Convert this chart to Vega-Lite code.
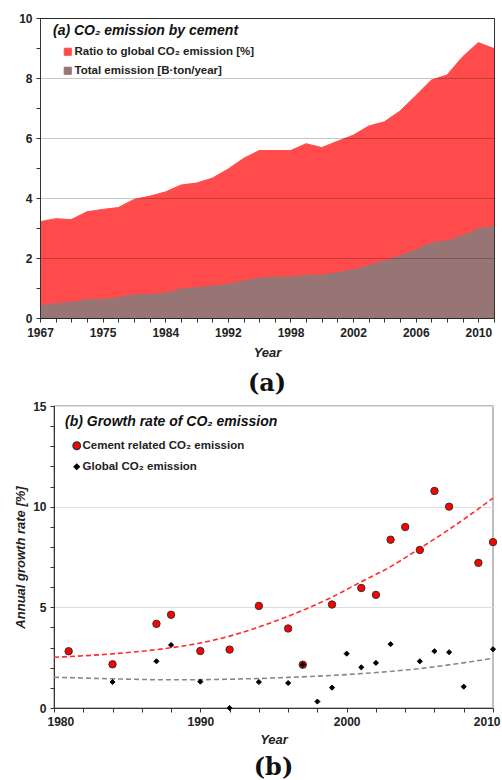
{
  "$schema": "https://vega.github.io/schema/vega-lite/v6.json",
  "background": "white",
  "padding": {"left": 13, "top": 11, "right": 0, "bottom": 0},
  "spacing": 2,
  "config": {
    "font": "Liberation Sans",
    "axis": {
      "labelFont": "Liberation Sans", "labelFontSize": 12, "labelFontWeight": "bold", "labelColor": "#222",
      "titleFont": "Liberation Sans", "titleFontSize": 13, "titleFontWeight": "bold", "titleFontStyle": "italic", "titleColor": "#222",
      "domainColor": "#333", "tickColor": "#333", "tickSize": 4
    },
    "legend": {
      "titleFont": "Liberation Sans", "titleFontSize": 14, "titleFontWeight": "bold", "titleFontStyle": "italic", "titleColor": "#111",
      "labelFont": "Liberation Sans", "labelFontSize": 11.5, "labelFontWeight": "bold", "labelColor": "#222",
      "padding": 0, "titleLimit": 400, "labelLimit": 400
    },
    "title": {"font": "DejaVu Serif", "fontSize": 24, "fontWeight": "bold", "color": "#111", "anchor": "middle"}
  },
  "datasets": {
    "cement": [
      {"year": 1967, "ratio": 3.21, "total": 0.41},
      {"year": 1969, "ratio": 3.31, "total": 0.48},
      {"year": 1971, "ratio": 3.28, "total": 0.52},
      {"year": 1973, "ratio": 3.54, "total": 0.61},
      {"year": 1975, "ratio": 3.62, "total": 0.62},
      {"year": 1977, "ratio": 3.68, "total": 0.67},
      {"year": 1980, "ratio": 3.95, "total": 0.77},
      {"year": 1982, "ratio": 4.06, "total": 0.78},
      {"year": 1984, "ratio": 4.2, "total": 0.83},
      {"year": 1986, "ratio": 4.43, "total": 0.96},
      {"year": 1988, "ratio": 4.5, "total": 1.01},
      {"year": 1990, "ratio": 4.66, "total": 1.06},
      {"year": 1992, "ratio": 4.96, "total": 1.12},
      {"year": 1993, "ratio": 5.32, "total": 1.23},
      {"year": 1995, "ratio": 5.58, "total": 1.33},
      {"year": 1996, "ratio": 5.58, "total": 1.36},
      {"year": 1998, "ratio": 5.58, "total": 1.36},
      {"year": 1999, "ratio": 5.81, "total": 1.43},
      {"year": 2000, "ratio": 5.68, "total": 1.43},
      {"year": 2001, "ratio": 5.89, "total": 1.51},
      {"year": 2002, "ratio": 6.09, "total": 1.6},
      {"year": 2003, "ratio": 6.4, "total": 1.74},
      {"year": 2004, "ratio": 6.54, "total": 1.9},
      {"year": 2005, "ratio": 6.9, "total": 2.06},
      {"year": 2006, "ratio": 7.41, "total": 2.27},
      {"year": 2007, "ratio": 7.93, "total": 2.5},
      {"year": 2008, "ratio": 8.1, "total": 2.57},
      {"year": 2009, "ratio": 8.71, "total": 2.74},
      {"year": 2010, "ratio": 9.18, "total": 2.97},
      {"year": 2011, "ratio": 8.98, "total": 3.06}
    ],
    "growth": [
      {"year": 1981, "series": "cement", "rate": 2.82},
      {"year": 1984, "series": "cement", "rate": 2.17},
      {"year": 1987, "series": "cement", "rate": 4.18},
      {"year": 1988, "series": "cement", "rate": 4.63},
      {"year": 1990, "series": "cement", "rate": 2.83},
      {"year": 1992, "series": "cement", "rate": 2.9},
      {"year": 1994, "series": "cement", "rate": 5.07},
      {"year": 1996, "series": "cement", "rate": 3.95},
      {"year": 1997, "series": "cement", "rate": 2.15},
      {"year": 1999, "series": "cement", "rate": 5.14},
      {"year": 2001, "series": "cement", "rate": 5.96},
      {"year": 2002, "series": "cement", "rate": 5.62},
      {"year": 2003, "series": "cement", "rate": 8.36},
      {"year": 2004, "series": "cement", "rate": 8.99},
      {"year": 2005, "series": "cement", "rate": 7.85},
      {"year": 2006, "series": "cement", "rate": 10.78},
      {"year": 2007, "series": "cement", "rate": 10.0},
      {"year": 2009, "series": "cement", "rate": 7.21},
      {"year": 2010, "series": "cement", "rate": 8.24},
      {"year": 1984, "series": "global", "rate": 1.29},
      {"year": 1987, "series": "global", "rate": 2.32},
      {"year": 1988, "series": "global", "rate": 3.13},
      {"year": 1990, "series": "global", "rate": 1.31},
      {"year": 1992, "series": "global", "rate": 0.0},
      {"year": 1994, "series": "global", "rate": 1.29},
      {"year": 1996, "series": "global", "rate": 1.24},
      {"year": 1997, "series": "global", "rate": 2.15},
      {"year": 1998, "series": "global", "rate": 0.32},
      {"year": 1999, "series": "global", "rate": 1.01},
      {"year": 2000, "series": "global", "rate": 2.7},
      {"year": 2001, "series": "global", "rate": 2.02},
      {"year": 2002, "series": "global", "rate": 2.24},
      {"year": 2003, "series": "global", "rate": 3.17},
      {"year": 2005, "series": "global", "rate": 2.32},
      {"year": 2006, "series": "global", "rate": 2.82},
      {"year": 2007, "series": "global", "rate": 2.77},
      {"year": 2008, "series": "global", "rate": 1.06},
      {"year": 2010, "series": "global", "rate": 2.92}
    ],
    "trend": [
      {"year": 1980, "fit": "cement", "rate": 2.52},
      {"year": 1984, "fit": "cement", "rate": 2.69},
      {"year": 1987, "fit": "cement", "rate": 2.9},
      {"year": 1990, "fit": "cement", "rate": 3.23},
      {"year": 1992, "fit": "cement", "rate": 3.57},
      {"year": 1995, "fit": "cement", "rate": 4.28},
      {"year": 1999, "fit": "cement", "rate": 5.51},
      {"year": 2001, "fit": "cement", "rate": 6.27},
      {"year": 2003, "fit": "cement", "rate": 7.02},
      {"year": 2005, "fit": "cement", "rate": 7.93},
      {"year": 2007, "fit": "cement", "rate": 8.87},
      {"year": 2010, "fit": "cement", "rate": 10.42},
      {"year": 1980, "fit": "global", "rate": 1.53},
      {"year": 1984, "fit": "global", "rate": 1.45},
      {"year": 1988, "fit": "global", "rate": 1.4},
      {"year": 1992, "fit": "global", "rate": 1.43},
      {"year": 1996, "fit": "global", "rate": 1.52},
      {"year": 2000, "fit": "global", "rate": 1.66},
      {"year": 2005, "fit": "global", "rate": 1.96},
      {"year": 2010, "fit": "global", "rate": 2.47}
    ]
  },
  "vconcat": [
    {
      "width": 454,
      "height": 300,
      "data": {"name": "cement"},
      "transform": [{"fold": ["ratio", "total"], "as": ["measure", "value"]}],
      "title": {"text": "(a)", "orient": "bottom", "offset": 13},
      "view": {"stroke": "#333", "strokeWidth": 1},
      "encoding": {
        "x": {
          "field": "year", "type": "ordinal",
          "scale": {"type": "point", "padding": 0},
          "axis": {
            "title": "Year", "labelAngle": 0, "grid": false,
            "labelExpr": "indexof([1967,1975,1984,1992,1998,2002,2006,2010], datum.value) >= 0 ? datum.label : ''",
            "labelPadding": 5, "titlePadding": 8
          }
        },
        "y": {
          "field": "value", "type": "quantitative", "stack": null,
          "scale": {"domain": [0, 10], "nice": false},
          "axis": {
            "title": null, "format": "d",
            "values": [0,0.5,1,1.5,2,2.5,3,3.5,4,4.5,5,5.5,6,6.5,7,7.5,8,8.5,9,9.5,10],
            "labelExpr": "datum.value % 2 == 0 ? datum.label : ''",
            "gridColor": "#000",
            "gridOpacity": {"condition": {"test": "datum.value % 2 == 0", "value": 0.22}, "value": 0},
            "zindex": 1, "labelPadding": 4
          }
        },
        "color": {
          "field": "measure", "type": "nominal",
          "scale": {"domain": ["ratio", "total"], "range": ["#FF4B4B", "#977575"]},
          "legend": {
            "title": "(a) CO₂ emission by cement",
            "orient": "none", "legendX": 13, "legendY": 6,
            "labelExpr": "datum.value == 'ratio' ? 'Ratio to global CO₂ emission [%]' : 'Total emission [B·ton/year]'",
            "symbolType": "square", "symbolSize": 50, "symbolStrokeColor": "#333", "symbolStrokeWidth": 1,
            "symbolOffset": 9, "titlePadding": 8, "rowPadding": 6, "labelOffset": 1
          }
        }
      },
      "layer": [
        {
          "transform": [{"filter": "datum.measure == 'ratio'"}],
          "mark": {"type": "area", "opacity": 1, "line": {"color": "#333", "strokeWidth": 1}}
        },
        {
          "transform": [{"filter": "datum.measure == 'total'"}],
          "mark": {"type": "area", "opacity": 1, "line": {"color": "#333", "strokeWidth": 1}}
        }
      ]
    },
    {
      "spacing": 0,
      "bounds": "flush",
      "hconcat": [
        {
          "width": 14,
          "height": 302,
          "data": {"values": []},
          "mark": {"type": "point", "opacity": 0},
          "view": {"stroke": null}
        },
        {
          "width": 439,
          "height": 302,
          "title": {"text": "(b)", "orient": "bottom", "offset": 10},
          "view": {"stroke": "#aaa", "strokeWidth": 1.5},
          "encoding": {
            "x": {
              "field": "year", "type": "quantitative",
              "scale": {"domain": [1980, 2010], "nice": false, "zero": false},
              "axis": {
                "title": "Year", "format": "d", "grid": false,
                "values": [1980,1982,1984,1986,1988,1990,1992,1994,1996,1998,2000,2002,2004,2006,2008,2010],
                "labelExpr": "datum.value % 10 == 0 ? datum.label : ''",
                "labelFlush": true, "labelFlushOffset": 7,
                "labelPadding": 4, "titlePadding": 6
              }
            },
            "y": {
              "field": "rate", "type": "quantitative",
              "scale": {"domain": [0, 15], "nice": false},
              "axis": {
                "title": "Annual growth rate [%]", "format": "d",
                "values": [0,1,2,3,4,5,6,7,8,9,10,11,12,13,14,15],
                "labelExpr": "datum.value % 5 == 0 ? datum.label : ''",
                "gridColor": "#dddddd",
                "gridOpacity": {"condition": {"test": "datum.value % 5 == 0", "value": 1}, "value": 0},
                "labelPadding": 4, "titlePadding": 5
              }
            }
          },
          "layer": [
            {
              "data": {"name": "trend"},
              "transform": [{"filter": "datum.fit == 'global'"}],
              "mark": {"type": "line", "color": "#888888", "strokeDash": [5, 3], "strokeWidth": 1.6, "interpolate": "monotone"}
            },
            {
              "data": {"name": "trend"},
              "transform": [{"filter": "datum.fit == 'cement'"}],
              "mark": {"type": "line", "color": "#FF2A2A", "strokeDash": [5, 3], "strokeWidth": 1.6, "interpolate": "monotone"}
            },
            {
              "data": {"name": "growth"},
              "mark": {"type": "point", "filled": true, "opacity": 1, "strokeWidth": 1},
              "encoding": {
                "fill": {
                  "field": "series", "type": "nominal",
                  "scale": {"domain": ["cement", "global"], "range": ["#FF0000", "#000000"]},
                  "legend": {
                    "title": "(b) Growth rate of CO₂ emission",
                    "orient": "none", "legendX": 25, "legendY": 397,
                    "labelExpr": "datum.value == 'cement' ? 'Cement related CO₂ emission' : 'Global CO₂ emission'",
                    "symbolOffset": 6, "titlePadding": 11, "rowPadding": 7, "labelOffset": 0
                  }
                },
                "stroke": {
                  "field": "series", "type": "nominal",
                  "scale": {"domain": ["cement", "global"], "range": ["#333333", "#000000"]}
                },
                "shape": {
                  "field": "series", "type": "nominal",
                  "scale": {"domain": ["cement", "global"], "range": ["circle", "diamond"]}
                },
                "size": {
                  "field": "series", "type": "nominal",
                  "scale": {"domain": ["cement", "global"], "range": [55, 26]}
                }
              }
            }
          ]
        }
      ]
    }
  ]
}
